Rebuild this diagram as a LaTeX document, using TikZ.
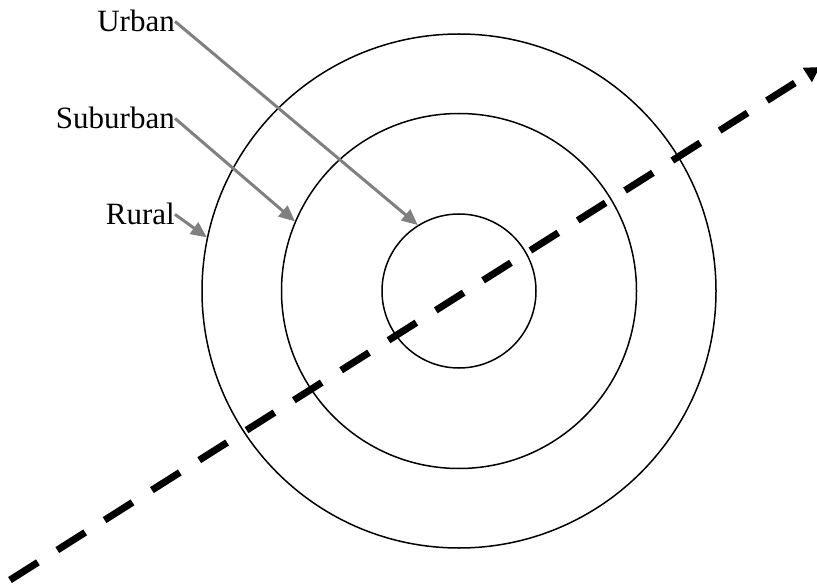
\documentclass[tikz,border=0pt]{standalone}
\usepackage{fontspec}
\setmainfont{Liberation Serif}
\usetikzlibrary{arrows.meta}

\begin{document}
\begin{tikzpicture}[
    x=1pt, y=-1pt,
    ring/.style={circle, draw, line width=1.5pt, inner sep=0pt},
    zonelabel/.style={inner sep=0pt, anchor=base east, font=\fontsize{31}{37}\selectfont},
    pointer/.style={-{Triangle[length=16pt,width=14pt]}, draw=gray, line width=3pt},
    route/.style={-{Triangle[length=15pt,width=16pt]}, line width=7pt, dash pattern=on 33pt off 23pt}
]
    \useasboundingbox (0,0) rectangle (817,588);

    \node[ring, minimum size=514pt] (rural) at (459,291) {};
    \node[ring, minimum size=355pt] (suburban) at (459,291) {};
    \node[ring, minimum size=154pt] (urban) at (459,291) {};

    \node[zonelabel] (urbanlabel) at (175,32) {Urban};
    \node[zonelabel] (suburbanlabel) at (175,129) {Suburban};
    \node[zonelabel] (rurallabel) at (175,225) {Rural};

    \draw[pointer] (urbanlabel.east) -- (urban.122.5);
    \draw[pointer] (suburbanlabel.east) -- (suburban.157);
    \draw[pointer] (rurallabel.east) -- (rural.168);

    \coordinate (routestart) at (10,580);
    \coordinate (routeend) at (820,67);
    \draw[route] (routestart) -- (routeend);
\end{tikzpicture}
\end{document}
